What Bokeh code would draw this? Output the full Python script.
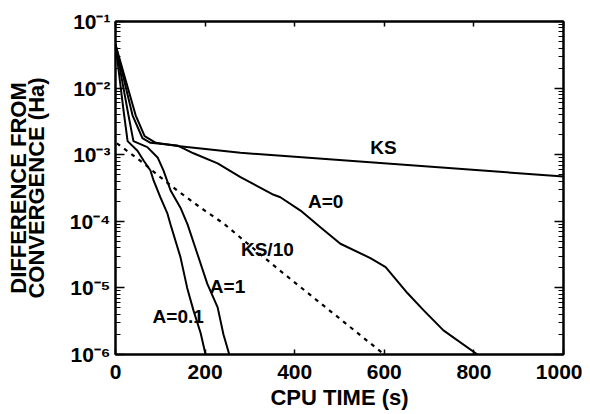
from bokeh.plotting import figure
from bokeh.models import LogAxis, LinearAxis, FixedTicker, CustomJSTickFormatter
from bokeh.core.properties import value
from bokeh.embed import file_html
from bokeh.resources import INLINE

# ---- data ----
x_ticks = [0, 200, 400, 600, 800, 1000]
y_ticks = [1e-6, 1e-5, 1e-4, 1e-3, 1e-2, 1e-1]

t_ks = [0, 45, 65, 90, 138, 279, 1000]
d_ks = [4.5e-2, 3.9e-3, 1.9e-3, 1.51e-3, 1.35e-3, 1.07e-3, 4.7e-4]

t_a0 = [0, 38, 60, 78, 138, 174, 228, 279, 353, 368, 413, 458, 502, 569, 603, 652, 688, 732, 808]
d_a0 = [4.5e-2, 3.9e-3, 1.78e-3, 1.51e-3, 1.38e-3, 1.05e-3, 7.4e-4, 4.6e-4, 2.5e-4, 2.3e-4,
        1.45e-4, 8.1e-5, 4.6e-5, 2.8e-5, 2.05e-5, 8.3e-6, 4.6e-6, 2.3e-6, 1.0e-6]

t_a1 = [0, 29, 40, 71, 94, 107, 123, 145, 161, 183, 205, 228, 241, 254]
d_a1 = [4.5e-2, 3.9e-3, 1.6e-3, 1.3e-3, 9.1e-4, 5.8e-4, 2.9e-4, 1.6e-4, 8.9e-5, 3.2e-5,
        1.15e-5, 5.1e-6, 2.0e-6, 1.0e-6]

t_a01 = [0, 10, 18, 27, 49, 63, 78, 85, 100, 116, 123, 145, 160, 174, 190, 201]
d_a01 = [4.5e-2, 1.26e-2, 4.6e-3, 1.6e-3, 1.15e-3, 8.1e-4, 5.8e-4, 4.1e-4, 2.3e-4, 1.3e-4,
         8.9e-5, 2.9e-5, 1.0e-5, 4.6e-6, 2.1e-6, 1.0e-6]

t_ks10 = [3, 33, 63, 100, 138, 190, 241, 368, 600]
d_ks10 = [1.48e-3, 1.05e-3, 7.4e-4, 4.6e-4, 2.9e-4, 1.6e-4, 9.3e-5, 1.8e-5, 1.0e-6]

curve_names = ["KS", "A=0", "KS/10", "A=1", "A=0.1"]
label_t = [598, 469, 339, 250, 140]
label_d = [1.29e-3, 2.0e-4, 3.8e-5, 1.05e-5, 3.7e-6]

FONT = "Liberation Sans"

p = figure(frame_width=448, frame_height=333, x_range=(0, 1000), y_range=(1e-6, 1e-1),
           y_axis_type="log", output_backend="svg", toolbar_location=None,
           min_border_left=115, min_border_right=19, min_border_top=21, min_border_bottom=40)
p.grid.visible = False
p.outline_line_color = "black"
p.outline_line_width = 2
p.background_fill_color = "white"
p.border_fill_color = "white"

minor = [m * 10.0 ** e for e in range(-6, -1) for m in range(2, 10)]
yticker = FixedTicker(ticks=y_ticks, minor_ticks=minor)
xticker = FixedTicker(ticks=x_ticks, minor_ticks=[])

sup_fmt = CustomJSTickFormatter(code="""
const e = Math.round(Math.log10(tick));
const sup = {"-": "\u207b", "0": "\u2070", "1": "\u00b9", "2": "\u00b2", "3": "\u00b3",
             "4": "\u2074", "5": "\u2075", "6": "\u2076"};
return "10" + String(e).split("").map(c => sup[c]).join("");
""")
blank_fmt = CustomJSTickFormatter(code="return '';")


def style_axis(ax, ticker, tick_in, minor_in):
    ax.ticker = ticker
    ax.axis_line_width = 2
    ax.axis_line_color = "black"
    ax.major_tick_in = tick_in
    ax.major_tick_out = 0
    ax.minor_tick_in = minor_in
    ax.minor_tick_out = 0
    ax.major_tick_line_width = 1.5
    ax.minor_tick_line_width = 1.2
    ax.major_tick_line_color = "black"
    ax.minor_tick_line_color = "black" if minor_in > 0 else None


# left axis
ly = p.yaxis[0]
style_axis(ly, yticker, 9, 5)
ly.formatter = sup_fmt
ly.major_label_text_font = FONT
ly.major_label_text_font_style = "bold"
ly.major_label_text_font_size = "21px"
ly.major_label_text_color = "black"
ly.major_label_standoff = 5
ly.axis_label = "DIFFERENCE FROM\nCONVERGENCE (Ha)"
ly.axis_label_text_font = FONT
ly.axis_label_text_font_style = "bold"
ly.axis_label_text_font_size = "22px"
ly.axis_label_text_color = "black"
ly.axis_label_text_line_height = 0.7
ly.axis_label_standoff = 18

# bottom axis
bx = p.xaxis[0]
style_axis(bx, xticker, 5, 0)
bx.major_label_text_font = FONT
bx.major_label_text_font_style = "bold"
bx.major_label_text_font_size = "21px"
bx.major_label_text_color = "black"
bx.major_label_standoff = 10
bx.axis_label = "CPU TIME (s)"
bx.axis_label_text_font = FONT
bx.axis_label_text_font_style = "bold"
bx.axis_label_text_font_size = "22px"
bx.axis_label_text_color = "black"
bx.axis_label_standoff = 3

# right and top axes (ticks only)
ry = LogAxis(formatter=blank_fmt, major_label_standoff=0)
style_axis(ry, yticker, 9, 5)
p.add_layout(ry, "right")
tx = LinearAxis(formatter=blank_fmt, major_label_standoff=0)
style_axis(tx, xticker, 5, 0)
p.add_layout(tx, "above")

# curves
p.line(t_ks, d_ks, line_color="black", line_width=2)
p.line(t_a0, d_a0, line_color="black", line_width=2)
p.line(t_a1, d_a1, line_color="black", line_width=2)
p.line(t_a01, d_a01, line_color="black", line_width=2)
p.line(t_ks10, d_ks10, line_color="black", line_width=2.2, line_dash="4 5")

p.text(x=label_t, y=label_d, text=curve_names, text_font=value(FONT), text_font_style="bold",
       text_font_size="19px", text_align="center", text_baseline="middle", text_color="black")

open("out.html", "w").write(file_html(p, INLINE))
